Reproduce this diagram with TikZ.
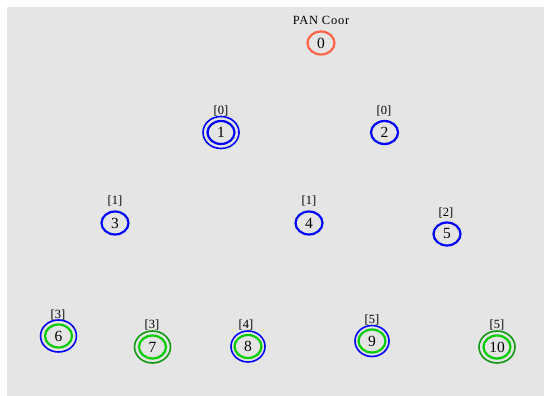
\documentclass[tikz,border=0pt]{standalone}
\usepackage{fontspec}
\setmainfont{Liberation Serif}
\usetikzlibrary{shapes.geometric}
\definecolor{bg}{HTML}{E5E5E5}
\definecolor{coorred}{HTML}{FF6347}
\definecolor{ringblue}{HTML}{0000FF}
\definecolor{darkgreen}{HTML}{139A13}
\definecolor{brightgreen}{HTML}{00CC00}
\begin{document}
\begin{tikzpicture}[x=1pt,y=-1pt,
  dev/.style={ellipse,draw,line width=2.2pt,inner sep=0pt,minimum width=27pt,minimum height=23pt,font=\fontsize{15.5}{15.5}\selectfont},
  outring/.style={line width=1.6pt},
  lbl/.style={inner sep=0pt,font=\fontsize{12.5}{12.5}\selectfont},
  title/.style={inner sep=0pt,font=\fontsize{12.5}{13}\selectfont\addfontfeatures{LetterSpace=6}}]
\useasboundingbox (0,0) rectangle (544,396);
\fill[white] (0,0) rectangle (544,396);
\fill[bg] (7,7) rectangle (544,396);
% nodes
\node[dev,draw=coorred] (n0) at (321,43) {0};
\node[title] (t0) at (321,20) {PAN Coor};
\node[dev,draw=ringblue] (n1) at (221,132.5) {1};
\node[dev,draw=ringblue] (n2) at (384.5,132.5) {2};
\node[dev,draw=ringblue] (n3) at (115,223) {3};
\node[dev,draw=ringblue] (n4) at (309,223) {4};
\node[dev,draw=ringblue] (n5) at (447,234) {5};
\node[dev,draw=brightgreen] (n6) at (58.5,336) {6};
\node[dev,draw=brightgreen] (n7) at (152.5,347) {7};
\node[dev,draw=brightgreen] (n8) at (248,346.5) {8};
\node[dev,draw=brightgreen] (n9) at (372,341) {9};
\node[dev,draw=brightgreen] (n10) at (497,347) {10};
% outer rings
\draw[outring,ringblue] (n1.center) ellipse [x radius=18pt,y radius=16pt];
\draw[outring,ringblue] (n6.center) ellipse [x radius=18pt,y radius=16pt];
\draw[outring,darkgreen] (n7.center) ellipse [x radius=18pt,y radius=16pt];
\draw[outring,ringblue] (n8.center) ellipse [x radius=17pt,y radius=15.5pt];
\draw[outring,ringblue] (n9.center) ellipse [x radius=17pt,y radius=15.5pt];
\draw[outring,darkgreen] (n10.center) ellipse [x radius=18pt,y radius=16pt];
% labels
\node[lbl] (l1) at (221,111) {[0]};
\node[lbl] (l2) at (384,111) {[0]};
\node[lbl] (l3) at (115,201) {[1]};
\node[lbl] (l4) at (309,201) {[1]};
\node[lbl] (l5) at (446,213) {[2]};
\node[lbl] (l6) at (58,315) {[3]};
\node[lbl] (l7) at (152,325) {[3]};
\node[lbl] (l8) at (246,325) {[4]};
\node[lbl] (l9) at (372,320) {[5]};
\node[lbl] (l10) at (497,325) {[5]};
\end{tikzpicture}
\end{document}
